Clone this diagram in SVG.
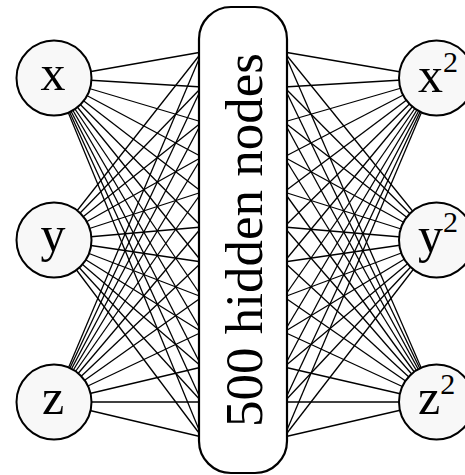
<svg xmlns="http://www.w3.org/2000/svg" width="465" height="475" viewBox="0 0 465 475">
<style>
.node{fill:#f8f8f8;stroke:#000;stroke-width:2}
.hid{fill:#fff;stroke:#000;stroke-width:2.2}
.lbl{font-family:"Liberation Serif","Times New Roman",serif;font-size:50px;fill:#000}
.sup{font-size:30px}
#connectors line{stroke:#000;stroke-width:1.3}
</style>
<g id="connectors">
<!-- x to hidden -->
<line x1="54" y1="78" x2="202" y2="52"/><line x1="54" y1="78" x2="202" y2="87"/><line x1="54" y1="78" x2="202" y2="122"/><line x1="54" y1="78" x2="202" y2="157"/><line x1="54" y1="78" x2="202" y2="192"/><line x1="54" y1="78" x2="202" y2="227"/><line x1="54" y1="78" x2="202" y2="262"/><line x1="54" y1="78" x2="202" y2="297"/><line x1="54" y1="78" x2="202" y2="332"/><line x1="54" y1="78" x2="202" y2="367"/><line x1="54" y1="78" x2="202" y2="402"/><line x1="54" y1="78" x2="202" y2="437"/>
<!-- y to hidden -->
<line x1="54" y1="240" x2="202" y2="52"/><line x1="54" y1="240" x2="202" y2="87"/><line x1="54" y1="240" x2="202" y2="122"/><line x1="54" y1="240" x2="202" y2="157"/><line x1="54" y1="240" x2="202" y2="192"/><line x1="54" y1="240" x2="202" y2="227"/><line x1="54" y1="240" x2="202" y2="262"/><line x1="54" y1="240" x2="202" y2="297"/><line x1="54" y1="240" x2="202" y2="332"/><line x1="54" y1="240" x2="202" y2="367"/><line x1="54" y1="240" x2="202" y2="402"/><line x1="54" y1="240" x2="202" y2="437"/>
<!-- z to hidden -->
<line x1="54" y1="402" x2="202" y2="52"/><line x1="54" y1="402" x2="202" y2="87"/><line x1="54" y1="402" x2="202" y2="122"/><line x1="54" y1="402" x2="202" y2="157"/><line x1="54" y1="402" x2="202" y2="192"/><line x1="54" y1="402" x2="202" y2="227"/><line x1="54" y1="402" x2="202" y2="262"/><line x1="54" y1="402" x2="202" y2="297"/><line x1="54" y1="402" x2="202" y2="332"/><line x1="54" y1="402" x2="202" y2="367"/><line x1="54" y1="402" x2="202" y2="402"/><line x1="54" y1="402" x2="202" y2="437"/>
<!-- hidden to x2 -->
<line x1="284" y1="52" x2="436" y2="78"/><line x1="284" y1="87" x2="436" y2="78"/><line x1="284" y1="122" x2="436" y2="78"/><line x1="284" y1="157" x2="436" y2="78"/><line x1="284" y1="192" x2="436" y2="78"/><line x1="284" y1="227" x2="436" y2="78"/><line x1="284" y1="262" x2="436" y2="78"/><line x1="284" y1="297" x2="436" y2="78"/><line x1="284" y1="332" x2="436" y2="78"/><line x1="284" y1="367" x2="436" y2="78"/><line x1="284" y1="402" x2="436" y2="78"/><line x1="284" y1="437" x2="436" y2="78"/>
<!-- hidden to y2 -->
<line x1="284" y1="52" x2="436" y2="240"/><line x1="284" y1="87" x2="436" y2="240"/><line x1="284" y1="122" x2="436" y2="240"/><line x1="284" y1="157" x2="436" y2="240"/><line x1="284" y1="192" x2="436" y2="240"/><line x1="284" y1="227" x2="436" y2="240"/><line x1="284" y1="262" x2="436" y2="240"/><line x1="284" y1="297" x2="436" y2="240"/><line x1="284" y1="332" x2="436" y2="240"/><line x1="284" y1="367" x2="436" y2="240"/><line x1="284" y1="402" x2="436" y2="240"/><line x1="284" y1="437" x2="436" y2="240"/>
<!-- hidden to z2 -->
<line x1="284" y1="52" x2="436" y2="402"/><line x1="284" y1="87" x2="436" y2="402"/><line x1="284" y1="122" x2="436" y2="402"/><line x1="284" y1="157" x2="436" y2="402"/><line x1="284" y1="192" x2="436" y2="402"/><line x1="284" y1="227" x2="436" y2="402"/><line x1="284" y1="262" x2="436" y2="402"/><line x1="284" y1="297" x2="436" y2="402"/><line x1="284" y1="332" x2="436" y2="402"/><line x1="284" y1="367" x2="436" y2="402"/><line x1="284" y1="402" x2="436" y2="402"/><line x1="284" y1="437" x2="436" y2="402"/>
</g>
<g id="hidden">
<rect class="hid" x="199" y="7" width="88" height="466" rx="32" ry="32"/>
<text class="lbl" style="font-size:53px" text-anchor="middle" transform="translate(262,240) rotate(-90)">500 hidden nodes</text>
</g>
<g id="in-x"><circle class="node" cx="54" cy="78" r="37.5"/><text class="lbl" x="53" y="90" text-anchor="middle">x</text></g>
<g id="in-y"><circle class="node" cx="54" cy="240" r="37.5"/><text class="lbl" x="53" y="251" text-anchor="middle">y</text></g>
<g id="in-z"><circle class="node" cx="54" cy="402" r="37.5"/><text class="lbl" x="53" y="414" text-anchor="middle">z</text></g>
<g id="out-x2"><circle class="node" cx="436.5" cy="78" r="37.5"/><text class="lbl" x="418" y="92">x<tspan class="sup" dy="-20">2</tspan></text></g>
<g id="out-y2"><circle class="node" cx="436.5" cy="240" r="37.5"/><text class="lbl" x="418" y="252">y<tspan class="sup" dy="-20">2</tspan></text></g>
<g id="out-z2"><circle class="node" cx="436.5" cy="402" r="37.5"/><text class="lbl" x="418" y="414">z<tspan class="sup" dy="-20">2</tspan></text></g>
</svg>
